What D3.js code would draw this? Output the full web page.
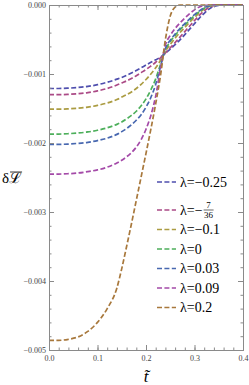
<!DOCTYPE html>
<head>
<meta charset="utf-8">
<script src="https://cdn.jsdelivr.net/npm/d3@7" charset="utf-8"></script>
<style>
  body { margin: 0; background: #fff; }
  text { font-family: "Liberation Serif", serif; }
</style>
</head>
<body>
<div id="container"></div>
<script>

// abscisse t~ (grille commune)
const tValues = [0, 0.02, 0.04, 0.06, 0.08, 0.10, 0.12, 0.14, 0.15, 0.16, 0.17, 0.18, 0.19, 0.20,
  0.21, 0.22, 0.23, 0.24, 0.25, 0.26, 0.27, 0.28, 0.29, 0.30, 0.31, 0.32, 0.33, 0.34, 0.36, 0.38, 0.40];

// valeurs de delta L en unites de 1e-3
const dL_m025 = [-1.21, -1.21, -1.205, -1.195, -1.18, -1.155, -1.12, -1.075, -1.05, -1.02, -0.985, -0.95, -0.91, -0.87,
  -0.83, -0.795, -0.755, -0.70, -0.64, -0.575, -0.505, -0.43, -0.35, -0.27, -0.19, -0.12, -0.06, -0.02, 0, 0, 0];
const dL_m7_36 = [-1.30, -1.30, -1.295, -1.285, -1.27, -1.245, -1.21, -1.16, -1.13, -1.10, -1.065, -1.025, -0.98, -0.935,
  -0.885, -0.83, -0.765, -0.695, -0.62, -0.545, -0.465, -0.385, -0.305, -0.225, -0.15, -0.085, -0.035, -0.008, 0, 0, 0];
const dL_m01 = [-1.51, -1.51, -1.505, -1.495, -1.48, -1.455, -1.42, -1.37, -1.335, -1.30, -1.26, -1.21, -1.15, -1.08,
  -1.00, -0.91, -0.80, -0.67, -0.57, -0.48, -0.40, -0.325, -0.25, -0.18, -0.115, -0.06, -0.022, -0.004, 0, 0, 0];
const dL_0 = [-1.87, -1.87, -1.865, -1.855, -1.84, -1.815, -1.78, -1.73, -1.695, -1.65, -1.60, -1.54, -1.46, -1.36,
  -1.23, -1.07, -0.86, -0.65, -0.53, -0.44, -0.36, -0.29, -0.22, -0.155, -0.095, -0.048, -0.015, 0, 0, 0, 0];
const dL_003 = [-2.02, -2.02, -2.015, -2.005, -1.99, -1.965, -1.93, -1.875, -1.835, -1.79, -1.735, -1.67, -1.59, -1.48,
  -1.34, -1.15, -0.89, -0.63, -0.51, -0.42, -0.34, -0.27, -0.20, -0.14, -0.085, -0.04, -0.012, 0, 0, 0, 0];
const dL_009 = [-2.45, -2.45, -2.445, -2.435, -2.415, -2.39, -2.35, -2.29, -2.25, -2.20, -2.14, -2.06, -1.95, -1.80,
  -1.60, -1.32, -0.92, -0.58, -0.44, -0.34, -0.26, -0.19, -0.125, -0.07, -0.03, -0.008, 0, 0, 0, 0, 0];
const dL_02 = [-4.86, -4.86, -4.845, -4.81, -4.73, -4.60, -4.40, -4.10, -3.82, -3.50, -3.17, -2.83, -2.49, -2.15,
  -1.80, -1.43, -1.02, -0.50, -0.16, -0.03, 0, 0, 0, 0, 0, 0, 0, 0, 0, 0, 0];

const lambdaLabels = ["\u22120.25", "\u22127/36", "\u22120.1", "0", "0.03", "0.09", "0.2"];
const colors = ["#4f4fae", "#ab4a86", "#ab9c42", "#4daf5b", "#4868b0", "#a44aa8", "#a8783c"];

const xTicks = [0, 0.1, 0.2, 0.3, 0.4];
const yTicks = [0, -0.001, -0.002, -0.003, -0.004, -0.005];

const allSeries = [dL_m025, dL_m7_36, dL_m01, dL_0, dL_003, dL_009, dL_02];

// Dimensions
const W = 249, H = 385;
const margin = {top: 5, right: 6, bottom: 35, left: 49};
const width = W - margin.left - margin.right;
const height = H - margin.top - margin.bottom;

const svgRoot = d3.select("#container").append("svg")
  .attr("width", W).attr("height", H);
const svg = svgRoot.append("g")
  .attr("transform", `translate(${margin.left},${margin.top})`);

const x = d3.scaleLinear().domain([0, 0.4]).range([0, width]);
const y = d3.scaleLinear().domain([-0.005, 0]).range([height, 0]);

const frameColor = "#8a8a8a";
const labelColor = "#444";
const fmtY = v => (v < 0 ? "\u2212" : "") + Math.abs(v).toFixed(3);
const fmtX = v => v.toFixed(1);

// Courbes
const line = d3.line()
  .x((d, i) => x(tValues[i]))
  .y(d => y(d * 1e-3))
  .curve(d3.curveMonotoneX);

svg.selectAll(".courbe")
  .data(allSeries)
  .enter().append("path")
  .attr("class", "courbe")
  .attr("d", d => line(d))
  .style("fill", "none")
  .style("stroke", (d, i) => colors[i])
  .style("stroke-width", 1.7)
  .style("stroke-dasharray", "5,2.4");

// Axes (cadre avec graduations vers l'interieur)
const xMinor = d3.range(0, 0.4001, 0.02);
const yMinor = d3.range(0, -0.00501, -0.0002);

function styleAxis(g) {
  g.selectAll("path").style("stroke", frameColor);
  g.selectAll("line").style("stroke", frameColor);
  g.selectAll("text").style("fill", labelColor).style("font-size", "8px")
    .style("font-family", "Liberation Serif");
}

// minor
svg.append("g").attr("transform", `translate(0,${height})`)
  .call(d3.axisBottom(x).tickValues(xMinor).tickSize(-2.5).tickFormat("")).call(styleAxis);
svg.append("g")
  .call(d3.axisTop(x).tickValues(xMinor).tickSize(-2.5).tickFormat("")).call(styleAxis);
svg.append("g")
  .call(d3.axisLeft(y).tickValues(yMinor).tickSize(-2.5).tickFormat("")).call(styleAxis);
svg.append("g").attr("transform", `translate(${width},0)`)
  .call(d3.axisRight(y).tickValues(yMinor).tickSize(-2.5).tickFormat("")).call(styleAxis);

// major
svg.append("g").attr("transform", `translate(0,${height})`)
  .call(d3.axisBottom(x).tickValues(xTicks).tickSize(-5).tickPadding(5).tickFormat(fmtX)).call(styleAxis);
svg.append("g")
  .call(d3.axisTop(x).tickValues(xTicks).tickSize(-5).tickFormat("")).call(styleAxis);
svg.append("g")
  .call(d3.axisLeft(y).tickValues(yTicks).tickSize(-5).tickPadding(3).tickFormat(fmtY)).call(styleAxis);
svg.append("g").attr("transform", `translate(${width},0)`)
  .call(d3.axisRight(y).tickValues(yTicks).tickSize(-5).tickFormat("")).call(styleAxis);

// Titres des axes
svgRoot.append("text")
  .attr("x", margin.left + width / 2).attr("y", 382)
  .attr("text-anchor", "middle")
  .style("font-size", "17px").style("font-style", "italic")
  .text("t\u0303");

const yLab = svgRoot.append("text")
  .attr("x", 2).attr("y", 183)
  .style("font-size", "15px");
yLab.append("tspan").text("\u03b4");
const ell = yLab.append("tspan").text("\u2112");
const bb = ell.node().getBBox();
svgRoot.append("line")
  .attr("x1", bb.x + 1).attr("x2", bb.x + bb.width)
  .attr("y1", bb.y + 2).attr("y2", bb.y + 2)
  .style("stroke", "#000").style("stroke-width", 0.8);

// Legende
const legY = [182, 210, 229.5, 249, 268.5, 288, 307.5];
const leg = svgRoot.append("g");
lambdaLabels.forEach((lab, i) => {
  const yy = legY[i];
  leg.append("line")
    .attr("x1", 157).attr("x2", 176).attr("y1", yy).attr("y2", yy)
    .style("stroke", colors[i]).style("stroke-width", 1.7)
    .style("stroke-dasharray", "5,2.4");
  if (lab.includes("/")) {
    const [num, den] = lab.replace("\u2212", "").split("/");
    const t = leg.append("text").attr("x", 180).attr("y", yy + 4.5)
      .style("font-size", "14px").text("\u03bb=\u2212");
    const x0 = 180 + t.node().getComputedTextLength() + 1;
    const fw = 10;
    leg.append("text").attr("x", x0 + fw / 2).attr("y", yy - 2)
      .attr("text-anchor", "middle").style("font-size", "9px").text(num);
    leg.append("line").attr("x1", x0).attr("x2", x0 + fw)
      .attr("y1", yy).attr("y2", yy).style("stroke", "#000").style("stroke-width", 0.6);
    leg.append("text").attr("x", x0 + fw / 2).attr("y", yy + 8)
      .attr("text-anchor", "middle").style("font-size", "9px").text(den);
  } else {
    leg.append("text").attr("x", 180).attr("y", yy + 4.5)
      .style("font-size", "14px").text("\u03bb=" + lab);
  }
});

</script>
</body>
